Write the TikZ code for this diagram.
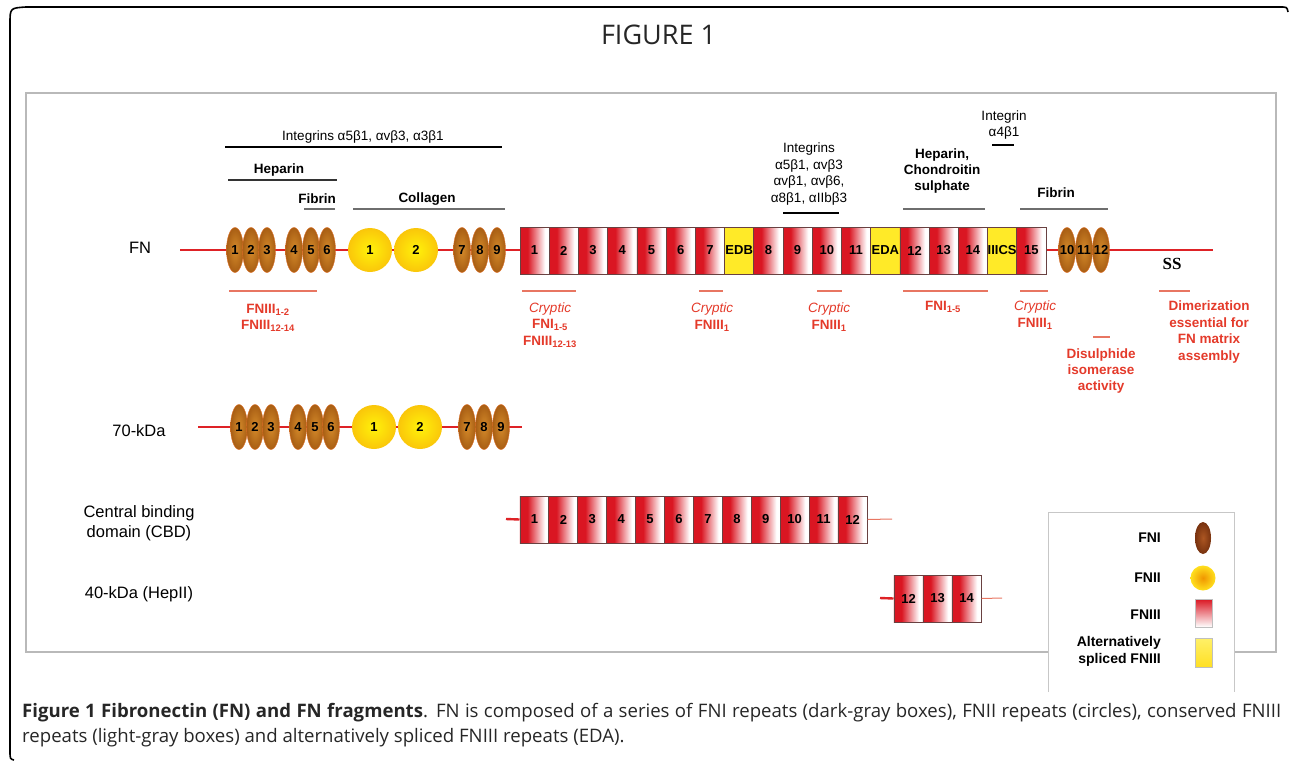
\documentclass[tikz,border=0pt]{standalone}
\usepackage{fontspec}
\setmainfont{Liberation Sans}
\newfontfamily\capfont{Open Sans}
\newfontfamily\ssfont{Liberation Serif}
\usetikzlibrary{shapes.geometric}
\usepackage{xcolor}

\definecolor{fnred}{RGB}{222,34,38}
\definecolor{fnired}{RGB}{218,22,34}
\definecolor{boxedge}{RGB}{105,65,65}
\definecolor{fnyellow}{RGB}{255,234,40}
\definecolor{fnilight}{RGB}{212,138,42}
\definecolor{fnidark}{RGB}{168,94,20}
\definecolor{fnirim}{RGB}{222,112,40}
\definecolor{fniicenter}{RGB}{255,242,10}
\definecolor{fniiedge}{RGB}{250,198,10}
\definecolor{sitered}{RGB}{228,58,42}
\definecolor{sitebar}{RGB}{232,118,98}
\definecolor{bindgray}{RGB}{110,110,110}
\definecolor{framegray}{RGB}{185,185,185}
\definecolor{keybrown}{RGB}{120,50,15}
\definecolor{keybrownlight}{RGB}{172,86,34}
\definecolor{keyorange}{RGB}{240,150,0}
\definecolor{keyyellow}{RGB}{255,224,30}

\pgfdeclarehorizontalshading{fniiishade}{100bp}{color(0bp)=(fnired); color(38bp)=(fnired); color(68bp)=(white); color(100bp)=(white)}

\begin{document}
\begin{tikzpicture}[x=1pt, y=-1pt,
    fni/.style={ellipse, minimum width=17pt, minimum height=45pt, inner sep=0pt,
        draw=fnirim, line width=0.4pt, inner color=fnilight, outer color=fnidark,
        font=\bfseries\fontsize{13}{13}\selectfont},
    fnii/.style={circle, minimum size=44pt, inner sep=0pt,
        inner color=fniicenter, outer color=fniiedge,
        font=\bfseries\fontsize{13}{13}\selectfont},
    fniii/.style={rectangle, minimum width=29.2pt, minimum height=47pt, inner sep=0pt,
        shade, shading=fniiishade, draw=boxedge, line width=0.8pt,
        font=\bfseries\fontsize{13}{13}\selectfont},
    spliced/.style={fniii, shade=false, fill=fnyellow},
    rowtext/.style={inner sep=0pt, align=center, font=\fontsize{16.5}{20}\selectfont},
    bindtext/.style={inner sep=0pt, align=center, font=\fontsize{13.5}{16.4}\selectfont},
    redtext/.style={inner sep=0pt, align=center, text=sitered, font=\fontsize{13.5}{16.4}\selectfont},
    keytext/.style={inner sep=0pt, align=right, anchor=east, font=\bfseries\fontsize{14}{17}\selectfont},
    backbone/.style={fnred, line width=2.4pt},
    tail/.style={sitebar, line width=1pt},
    bindbar/.style={line width=1.2pt},
    redbar/.style={sitebar, line width=1.4pt}
]
    \useasboundingbox (0, 0) rectangle (1290, 761);

    % frames
    \draw[line width=1.6pt] (14, 760) .. controls (10, 759) .. (10, 750) -- (10, 24)
        .. controls (10, 8) .. (26, 7) -- (1280, 7) .. controls (1287, 7) .. (1288, 12);
    \draw[framegray, line width=1.2pt] (26, 93) rectangle (1276, 652);

    \node (title) [inner sep=0pt, anchor=base, font=\capfont\fontsize{27}{27}\selectfont, text=black!85, shift={(658.5, 44)}]
    {
        FIGURE 1
    };

    % FN
    \coordinate (fn_start) at (180, 250);
    \coordinate (fn_end) at (1213, 250);
    \draw[backbone] (fn_start) -- (fn_end);

    \node (fn_label) [rowtext, shift={(140, 248)}] {FN};

    \node (fn_fni_1) [fni, shift={(235, 250)}] {1};
    \node (fn_fni_2) [fni, shift={(251, 250)}] {2};
    \node (fn_fni_3) [fni, shift={(267, 250)}] {3};
    \node (fn_fni_4) [fni, shift={(294, 250)}] {4};
    \node (fn_fni_5) [fni, shift={(311, 250)}] {5};
    \node (fn_fni_6) [fni, shift={(327, 250)}] {6};
    \node (fn_fnii_1) [fnii, shift={(370, 250)}] {1};
    \node (fn_fnii_2) [fnii, shift={(416, 250)}] {2};
    \node (fn_fni_7) [fni, shift={(462, 250)}] {7};
    \node (fn_fni_8) [fni, shift={(480, 250)}] {8};
    \node (fn_fni_9) [fni, shift={(497, 250)}] {9};

    \node (fn_fniii_1) [fniii, shift={(534.6, 250.5)}] {1};
    \node (fn_fniii_2) [fniii, shift={(563.8, 250.5)}] {2};
    \node (fn_fniii_3) [fniii, shift={(593.0, 250.5)}] {3};
    \node (fn_fniii_4) [fniii, shift={(622.3, 250.5)}] {4};
    \node (fn_fniii_5) [fniii, shift={(651.5, 250.5)}] {5};
    \node (fn_fniii_6) [fniii, shift={(680.7, 250.5)}] {6};
    \node (fn_fniii_7) [fniii, shift={(709.9, 250.5)}] {7};
    \node (fn_edb) [spliced, shift={(739.2, 250.5)}] {EDB};
    \node (fn_fniii_8) [fniii, shift={(768.4, 250.5)}] {8};
    \node (fn_fniii_9) [fniii, shift={(797.6, 250.5)}] {9};
    \node (fn_fniii_10) [fniii, shift={(826.8, 250.5)}] {10};
    \node (fn_fniii_11) [fniii, shift={(856.0, 250.5)}] {11};
    \node (fn_eda) [spliced, shift={(885.3, 250.5)}] {EDA};
    \node (fn_fniii_12) [fniii, shift={(914.5, 250.5)}] {12};
    \node (fn_fniii_13) [fniii, shift={(943.7, 250.5)}] {13};
    \node (fn_fniii_14) [fniii, shift={(972.9, 250.5)}] {14};
    \node (fn_iiics) [spliced, shift={(1002.1, 250.5)}] {IIICS};
    \node (fn_fniii_15) [fniii, shift={(1031.4, 250.5)}] {15};

    \node (fn_fni_10) [fni, shift={(1067, 250)}] {\makebox[0pt]{10}};
    \node (fn_fni_11) [fni, shift={(1084, 250)}] {\makebox[0pt]{11}};
    \node (fn_fni_12) [fni, shift={(1101, 250)}] {\makebox[0pt]{12}};

    \node (fn_ss) [inner sep=0pt, font=\ssfont\bfseries\fontsize{17}{17}\selectfont, shift={(1172, 264)}] {SS};

    % binding sites above
    \node (integrins_top) [bindtext, shift={(363, 137)}] {Integrins α5β1, αvβ3, α3β1};
    \draw[bindbar] (225, 147) -- (502, 147);
    \node (heparin_left) [bindtext, font=\bfseries\fontsize{13.5}{16.4}\selectfont, shift={(279, 170)}] {Heparin};
    \draw[bindbar, black!80] (228, 180) -- (337, 180);
    \node (fibrin_left) [bindtext, font=\bfseries\fontsize{13.5}{16.4}\selectfont, shift={(317, 199)}] {Fibrin};
    \draw[bindbar, bindgray] (304, 209) -- (335, 209);
    \node (collagen) [bindtext, font=\bfseries\fontsize{13.5}{16.4}\selectfont, shift={(427, 199)}] {Collagen};
    \draw[bindbar, bindgray] (353, 209) -- (505, 209);
    \node (integrins_mid) [bindtext, shift={(809, 174)}]
    {
        Integrins\\α5β1, αvβ3\\αvβ1, αvβ6,\\α8β1, αIIbβ3
    };
    \draw[bindbar] (783, 213) -- (839, 213);
    \node (heparin_right) [bindtext, font=\bfseries\fontsize{13.5}{16.4}\selectfont, shift={(942, 171)}]
    {
        Heparin,\\Chondroitin\\sulphate
    };
    \draw[bindbar, bindgray] (903, 209) -- (985, 209);
    \node (integrin_a4b1) [bindtext, shift={(1004, 125)}]
    {
        Integrin\\α4β1
    };
    \draw[bindbar] (992, 145) -- (1014, 145);
    \node (fibrin_right) [bindtext, font=\bfseries\fontsize{13.5}{16.4}\selectfont, shift={(1056, 193)}] {Fibrin};
    \draw[bindbar, bindgray] (1020, 209) -- (1108, 209);

    % sites below
    \draw[redbar] (229, 291) -- (317, 291);
    \node (site_fniii_1) [redtext, font=\bfseries\fontsize{13.5}{16.4}\selectfont, shift={(268, 318)}]
    {
        FNIII\textsubscript{1-2}\\FNIII\textsubscript{12-14}
    };
    \draw[redbar] (522, 291) -- (576, 291);
    \node (site_cryptic_1) [redtext, shift={(550, 325)}]
    {
        \textit{Cryptic}\\\textbf{FNI\textsubscript{1-5}}\\\textbf{FNIII\textsubscript{12-13}}
    };
    \draw[redbar] (699, 291) -- (723, 291);
    \node (site_cryptic_7) [redtext, shift={(712, 317)}]
    {
        \textit{Cryptic}\\\textbf{FNIII\textsubscript{1}}
    };
    \draw[redbar] (817, 291) -- (842, 291);
    \node (site_cryptic_10) [redtext, shift={(829, 317)}]
    {
        \textit{Cryptic}\\\textbf{FNIII\textsubscript{1}}
    };
    \draw[redbar] (903, 291) -- (988, 291);
    \node (site_fni) [redtext, font=\bfseries\fontsize{13.5}{16.4}\selectfont, shift={(943, 307)}] {FNI\textsubscript{1-5}};
    \draw[redbar] (1020, 291) -- (1048, 291);
    \node (site_cryptic_15) [redtext, shift={(1035, 315)}]
    {
        \textit{Cryptic}\\\textbf{FNIII\textsubscript{1}}
    };
    \draw[redbar] (1093, 337) -- (1110, 337);
    \node (site_disulphide) [redtext, font=\bfseries\fontsize{13.5}{16.4}\selectfont, shift={(1101, 371)}]
    {
        Disulphide\\isomerase\\activity
    };
    \draw[redbar] (1159, 291) -- (1190, 291);
    \node (site_dimerization) [redtext, font=\bfseries\fontsize{13.5}{16.4}\selectfont, shift={(1209, 332)}]
    {
        Dimerization\\essential for\\FN matrix\\assembly
    };

    % 70-kDa
    \coordinate (kda70_start) at (198, 427);
    \coordinate (kda70_end) at (522, 427);
    \draw[backbone] (kda70_start) -- (kda70_end);

    \node (kda70_label) [rowtext, shift={(139, 431)}] {70-kDa};

    \node (kda70_fni_1) [fni, shift={(239, 427)}] {1};
    \node (kda70_fni_2) [fni, shift={(255, 427)}] {2};
    \node (kda70_fni_3) [fni, shift={(271, 427)}] {3};
    \node (kda70_fni_4) [fni, shift={(298, 427)}] {4};
    \node (kda70_fni_5) [fni, shift={(315, 427)}] {5};
    \node (kda70_fni_6) [fni, shift={(331, 427)}] {6};
    \node (kda70_fnii_1) [fnii, shift={(374, 427)}] {1};
    \node (kda70_fnii_2) [fnii, shift={(420, 427)}] {2};
    \node (kda70_fni_7) [fni, shift={(467, 427)}] {7};
    \node (kda70_fni_8) [fni, shift={(484, 427)}] {8};
    \node (kda70_fni_9) [fni, shift={(501, 427)}] {9};

    % CBD
    \node (cbd_label) [rowtext, shift={(139, 523)}]
    {
        Central binding\\domain (CBD)
    };

    \node (cbd_1) [fniii, shift={(534.5, 519.5)}] {1};
    \node (cbd_2) [fniii, shift={(563.4, 519.5)}] {2};
    \node (cbd_3) [fniii, shift={(592.3, 519.5)}] {3};
    \node (cbd_4) [fniii, shift={(621.2, 519.5)}] {4};
    \node (cbd_5) [fniii, shift={(650.1, 519.5)}] {5};
    \node (cbd_6) [fniii, shift={(679.0, 519.5)}] {6};
    \node (cbd_7) [fniii, shift={(708.0, 519.5)}] {7};
    \node (cbd_8) [fniii, shift={(736.9, 519.5)}] {8};
    \node (cbd_9) [fniii, shift={(765.8, 519.5)}] {9};
    \node (cbd_10) [fniii, shift={(794.7, 519.5)}] {10};
    \node (cbd_11) [fniii, shift={(823.6, 519.5)}] {11};
    \node (cbd_12) [fniii, shift={(852.5, 519.5)}] {12};

    \coordinate (cbd_start) at (506, 519);
    \coordinate (cbd_end) at (892, 519);
    \draw[backbone] (cbd_start) -- (cbd_1.west);
    \draw[tail] (cbd_12.east) -- (cbd_end);

    % 40-kDa
    \node (hepii_label) [rowtext, shift={(139, 594)}] {40-kDa (HepII)};

    \node (hepii_12) [fniii, shift={(908.5, 598.5)}] {12};
    \node (hepii_13) [fniii, shift={(937.5, 598.5)}] {13};
    \node (hepii_14) [fniii, shift={(966.5, 598.5)}] {14};

    \coordinate (hepii_start) at (880, 598);
    \coordinate (hepii_end) at (1002, 598);
    \draw[backbone] (hepii_start) -- (hepii_12.west);
    \draw[tail] (hepii_14.east) -- (hepii_end);

    % legend
    \fill[white] (1048, 512) rectangle (1234, 692);
    \draw[black!22, line width=1pt] (1048, 692) -- (1048, 512) -- (1234, 512) -- (1234, 692);

    \node (key_fni_text) [keytext, shift={(1161, 538)}] {FNI};
    \node (key_fni) [ellipse, inner sep=0pt, minimum width=16pt, minimum height=32pt, inner color=keybrownlight, outer color=keybrown, shift={(1203, 538)}] {};
    \node (key_fnii_text) [keytext, shift={(1161, 578)}] {FNII};
    \node (key_fnii) [circle, inner sep=0pt, minimum size=25pt, inner color=keyorange, outer color=keyyellow, shift={(1203, 578)}] {};
    \node (key_fniii_text) [keytext, shift={(1161, 615)}] {FNIII};
    \node (key_fniii) [rectangle, inner sep=0pt, minimum width=17pt, minimum height=28pt, top color=fnired, bottom color=white, draw=black!25, shift={(1203.5, 613)}] {};
    \node (key_spliced_text) [keytext, shift={(1161, 651)}]
    {
        Alternatively\\spliced FNIII
    };
    \node (key_spliced) [rectangle, inner sep=0pt, minimum width=17pt, minimum height=29pt, top color=fnyellow!70, bottom color=fnyellow!90!orange, draw=black!25, shift={(1203.5, 652.5)}] {};

    % caption
    \node (caption_1) [inner sep=0pt, anchor=base west, font=\capfont\fontsize{18.6}{24}\selectfont, text=black!85, shift={(22, 717.5)}]
    {
        \makebox[1259pt][s]{\textbf{Figure 1 Fibronectin (FN) and FN fragments}. FN is composed of a series of FNI repeats (dark-gray boxes), FNII repeats (circles), conserved FNIII}
    };
    \node (caption_2) [inner sep=0pt, anchor=base west, font=\capfont\fontsize{18.6}{24}\selectfont, text=black!85, shift={(22, 742)}]
    {
        repeats (light-gray boxes) and alternatively spliced FNIII repeats (EDA).
    };
\end{tikzpicture}
\end{document}
